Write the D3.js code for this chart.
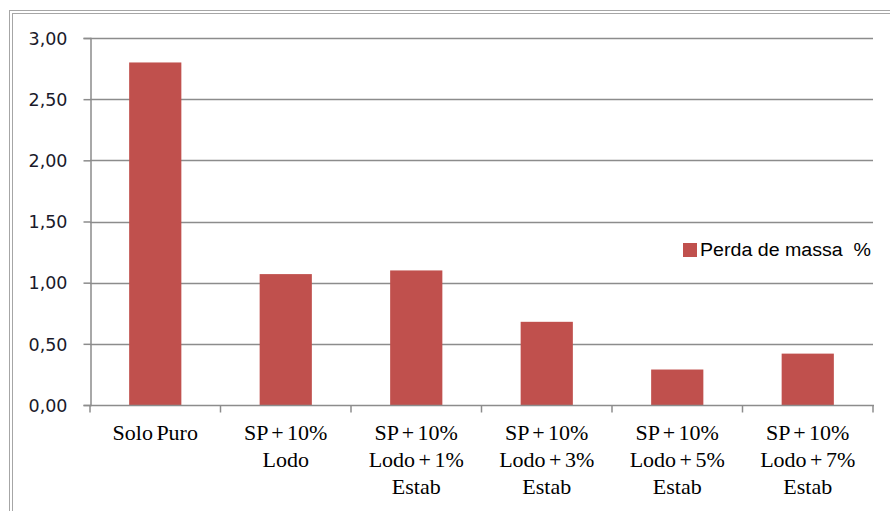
<!DOCTYPE html>
<html>
<head>
<meta charset="utf-8">
<script src="https://cdn.jsdelivr.net/npm/d3@7"></script>
<style>
  body { margin: 0; background: #fff; }
  svg { display: block; }
</style>
</head>
<body>
<svg id="chart" width="890" height="511"></svg>
<script>
// categorias e valores (perda de massa %)
var categorias = [
  ["Solo Puro"],
  ["SP + 10%", "Lodo"],
  ["SP + 10%", "Lodo + 1%", "Estab"],
  ["SP + 10%", "Lodo + 3%", "Estab"],
  ["SP + 10%", "Lodo + 5%", "Estab"],
  ["SP + 10%", "Lodo + 7%", "Estab"]
];
var perdaMassa = [2.80, 1.07, 1.10, 0.68, 0.29, 0.42];
var ticksY = [0, 0.5, 1.0, 1.5, 2.0, 2.5, 3.0];
var nomeSerie = "Perda de massa  %";

var svg = d3.select("#chart");
var margem = {left: 90, right: 873, top: 38, bottom: 405};

// moldura dupla
svg.append("rect").attr("x", 9.5).attr("y", 10.5).attr("width", 900).attr("height", 600)
  .attr("fill", "none").attr("stroke", "#a6a6a6").attr("stroke-width", 1);
svg.append("rect").attr("x", 12.5).attr("y", 13.5).attr("width", 900).attr("height", 600)
  .attr("fill", "none").attr("stroke", "#a6a6a6").attr("stroke-width", 1);

var x = d3.scaleBand()
  .domain(d3.range(perdaMassa.length))
  .range([margem.left, margem.right])
  .paddingInner(0.6).paddingOuter(0.3);

var xTicks = d3.scaleBand().domain(d3.range(perdaMassa.length)).range([margem.left, margem.right]);

var y = d3.scaleLinear().domain([0, 3]).range([margem.bottom, margem.top]);

// grade
svg.append("g").selectAll("line").data(ticksY.slice(1)).enter().append("line")
  .attr("x1", margem.left).attr("x2", margem.right)
  .attr("y1", function(d){ return Math.round(y(d)) + 0.5; })
  .attr("y2", function(d){ return Math.round(y(d)) + 0.5; })
  .attr("stroke", "#8c8c8c").attr("stroke-width", 1.5);

// barras
svg.append("g").selectAll("rect").data(perdaMassa).enter().append("rect")
  .attr("x", function(d,i){ return x(i); })
  .attr("width", x.bandwidth())
  .attr("y", function(d){ return y(d); })
  .attr("height", function(d){ return y(0) - y(d); })
  .attr("fill", "#c0504d");

// eixo y
var eixoY = svg.append("g").attr("transform", "translate(" + (margem.left + 0.5) + ",0)")
  .call(d3.axisLeft(y).tickValues(ticksY).tickSize(7).tickPadding(16)
    .tickFormat(function(d){ return d.toFixed(2).replace(".", ","); }));
eixoY.select(".domain").attr("stroke", "#8c8c8c").attr("stroke-width", 1.5);
eixoY.selectAll(".tick line").attr("stroke", "#8c8c8c").attr("stroke-width", 1.5);
eixoY.selectAll(".tick text").attr("font-family", "DejaVu Sans, Verdana, sans-serif")
  .attr("font-size", "17.5px").attr("fill", "#1a1a2a").attr("dy", "0.36em");

// eixo x
var eixoX = svg.append("g").attr("transform", "translate(0," + (margem.bottom + 0.5) + ")");
eixoX.append("line").attr("x1", margem.left).attr("x2", margem.right + 1)
  .attr("stroke", "#8c8c8c").attr("stroke-width", 1.5);
eixoX.selectAll(".tk").data(d3.range(perdaMassa.length + 1)).enter().append("line")
  .attr("x1", function(i){ return i < perdaMassa.length ? xTicks(i) : margem.right; })
  .attr("x2", function(i){ return i < perdaMassa.length ? xTicks(i) : margem.right; })
  .attr("y1", 0).attr("y2", 7)
  .attr("stroke", "#8c8c8c").attr("stroke-width", 1.5);

var rotulos = eixoX.selectAll(".rot").data(categorias).enter().append("text")
  .attr("text-anchor", "middle")
  .attr("font-family", "Liberation Serif, Times New Roman, serif")
  .attr("font-size", "22px").attr("fill", "#000")
  .attr("word-spacing", "-2px");
rotulos.selectAll("tspan").data(function(d, i){ return d.map(function(s){ return {s: s, i: i}; }); })
  .enter().append("tspan")
  .attr("x", function(d){ return xTicks(d.i) + xTicks.bandwidth() / 2; })
  .attr("y", function(d, j){ return 34 + j * 27; })
  .text(function(d){ return d.s; });

// legenda
var leg = svg.append("g").attr("transform", "translate(683,243)");
leg.append("rect").attr("width", 14).attr("height", 14).attr("fill", "#c0504d");
leg.append("text").attr("x", 17).attr("y", 13)
  .attr("font-family", "Liberation Sans, Arial, sans-serif")
  .attr("font-size", "18px").attr("fill", "#000")
  .attr("textLength", 171).attr("lengthAdjust", "spacingAndGlyphs")
  .style("white-space", "pre")
  .text(nomeSerie);
</script>
</body>
</html>
